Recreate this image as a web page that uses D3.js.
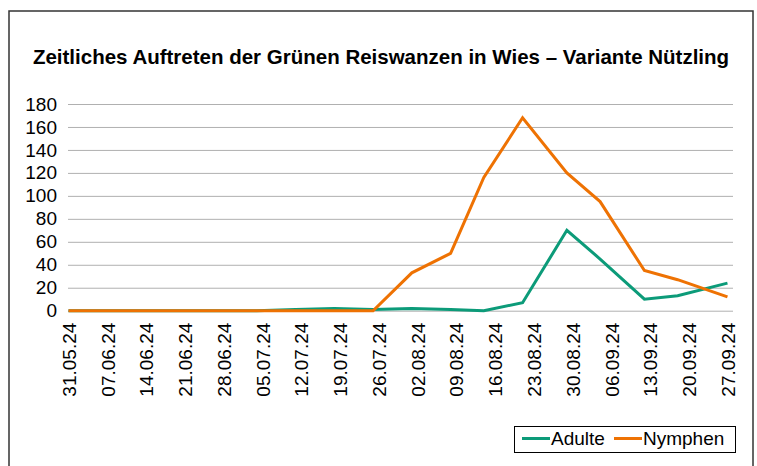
<!DOCTYPE html>
<html>
<head>
<meta charset="utf-8">
<script src="https://cdn.jsdelivr.net/npm/d3@7"></script>
<style>
    body { margin: 0; background: #fff; }
    svg { display: block; font-family: "Liberation Sans", Arial, sans-serif; }
    .grid line { stroke: #b0b0b0; stroke-width: 1; }
    .grid .domain { display: none; }
    .axis text { fill: #000; font-size: 19px; }
    .axis .domain, .axis line { display: none; }
    .line { fill: none; stroke-width: 3; stroke-linejoin: miter; }
</style>
</head>
<body>
<script>
// sampling dates and counts
var dates = ["31.05.24", "06.06.24", "13.06.24", "20.06.24", "27.06.24", "04.07.24",
             "11.07.24", "18.07.24", "25.07.24", "01.08.24", "08.08.24", "14.08.24",
             "21.08.24", "29.08.24", "04.09.24", "12.09.24", "18.09.24", "27.09.24"];
var adulte   = [0, 0, 0, 0, 0, 0, 1, 2, 1, 2, 1, 0, 7, 70, 45, 10, 13, 24];
var nymphen  = [0, 0, 0, 0, 0, 0, 0, 0, 0, 33, 50, 116, 168, 120, 95, 35, 27, 12];

var tickLabels = ["31.05.24", "07.06.24", "14.06.24", "21.06.24", "28.06.24", "05.07.24",
                  "12.07.24", "19.07.24", "26.07.24", "02.08.24", "09.08.24", "16.08.24",
                  "23.08.24", "30.08.24", "06.09.24", "13.09.24", "20.09.24", "27.09.24"];
var yTicks = [0, 20, 40, 60, 80, 100, 120, 140, 160, 180];

var seriesNames = ["Adulte", "Nymphen"];
var colors = ["#0c9b79", "#ee7203"];

var title = "Zeitliches Auftreten der Grünen Reiswanzen in Wies – Variante Nützling";

var svgWidth = 757, svgHeight = 466;
var plot = { left: 68, right: 733, top: 104, bottom: 310.7 };

var parse = d3.utcParse("%d.%m.%y");

var svg = d3.select('body')
    .append('svg')
    .attr('width', svgWidth)
    .attr('height', svgHeight);

// outer frame
svg.append('rect')
    .attr('x', 9)
    .attr('y', 11)
    .attr('width', 744)
    .attr('height', 480)
    .attr('fill', 'none')
    .attr('stroke', '#333')
    .attr('stroke-width', 1.5);

svg.append('text')
    .attr('x', 381)
    .attr('y', 64)
    .attr('text-anchor', 'middle')
    .attr('font-size', 20.5)
    .attr('font-weight', 'bold')
    .text(title);

var start = parse(tickLabels[0]);
var end = d3.utcDay.offset(parse(tickLabels[tickLabels.length - 1]), 1);

var xScale = d3.scaleUtc()
    .domain([start, end])
    .range([plot.left + 0.5, plot.right]);

var yScale = d3.scaleLinear()
    .domain([0, 180])
    .range([plot.bottom, plot.top]);

// gridlines
svg.append('g')
    .attr('class', 'grid')
    .attr('transform', `translate(${plot.left}, 0)`)
    .call(d3.axisLeft(yScale).tickValues(yTicks).tickSize(-(plot.right - plot.left)).tickFormat(''));

svg.append('g')
    .attr('class', 'y axis')
    .attr('transform', `translate(${plot.left}, 0)`)
    .call(d3.axisLeft(yScale).tickValues(yTicks).tickSize(0).tickPadding(11));

var xAxis = svg.append('g')
    .attr('class', 'x axis')
    .attr('transform', `translate(0, ${plot.bottom})`)
    .call(d3.axisBottom(xScale)
        .tickValues(tickLabels.map(parse))
        .tickSize(0)
        .tickFormat(d3.utcFormat("%d.%m.%y")));

xAxis.selectAll('text')
    .attr('transform', 'rotate(-90)')
    .attr('text-anchor', 'end')
    .attr('x', -12)
    .attr('y', 0)
    .attr('dy', '0.36em');

var line = d3.line()
    .x(function(d) { return xScale(d.date); })
    .y(function(d) { return yScale(d.value); });

[adulte, nymphen].forEach(function(values, i) {
    var data = dates.map(function(s, j) { return { date: parse(s), value: values[j] }; });
    svg.append('path')
        .datum(data)
        .attr('class', 'line')
        .attr('stroke', colors[i])
        .attr('d', line);
});

// legend
var legend = svg.append('g').attr('class', 'legend');
legend.append('rect')
    .attr('x', 514.5)
    .attr('y', 426.5)
    .attr('width', 221)
    .attr('height', 26)
    .attr('fill', '#fff')
    .attr('stroke', '#000')
    .attr('stroke-width', 1);

var legendX = [522, 614];
seriesNames.forEach(function(name, i) {
    legend.append('line')
        .attr('x1', legendX[i])
        .attr('x2', legendX[i] + 28)
        .attr('y1', 438.5)
        .attr('y2', 438.5)
        .attr('stroke', colors[i])
        .attr('stroke-width', 3);
    legend.append('text')
        .attr('x', legendX[i] + 29)
        .attr('y', 445)
        .attr('font-size', 19)
        .text(name);
});
</script>
</body>
</html>
